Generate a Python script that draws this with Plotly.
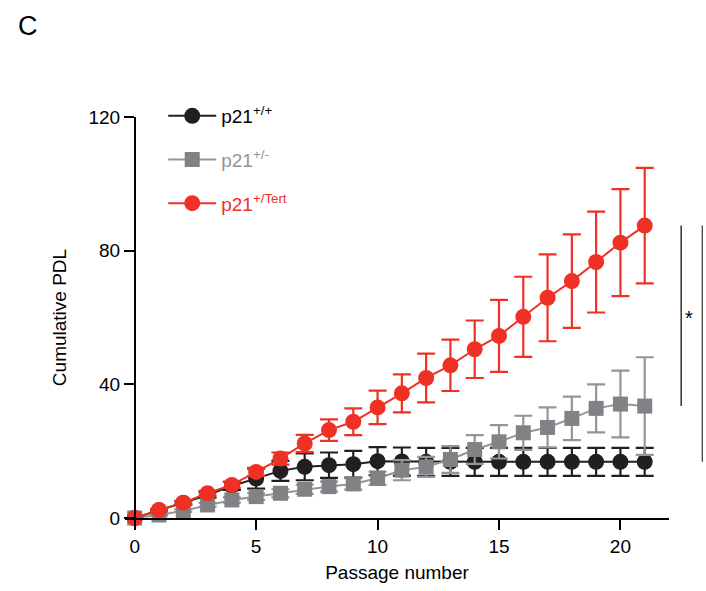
import plotly.graph_objects as go

passage = list(range(22))
black = [0, 2.3, 4.5, 6.9, 9.6, 11.8, 14.1, 15.3, 15.8, 16.1, 17.0, 16.9, 16.8, 16.8, 16.8, 16.8, 16.8, 16.8, 16.8, 16.8, 16.8, 16.8]
black_err = [0, 0.3, 0.5, 0.8, 1.2, 3.0, 3.0, 4.0, 3.8, 4.0, 4.2, 4.2, 4.2, 4.2, 4.2, 4.2, 4.2, 4.2, 4.2, 4.2, 4.2, 4.2]
gray = [0, 0.9, 2.2, 3.9, 5.4, 6.4, 7.4, 8.6, 9.4, 10.2, 11.9, 14.3, 15.3, 17.5, 20.5, 22.8, 25.5, 27.1, 29.8, 32.8, 34.1, 33.5]
gray_err = [0, 0.2, 0.4, 0.6, 0.8, 1.0, 1.2, 1.4, 1.5, 1.7, 2.0, 3.0, 3.0, 4.0, 4.3, 5.0, 5.1, 6.0, 6.5, 7.2, 10.0, 14.6]
red = [0, 2.4, 4.6, 7.4, 9.9, 13.8, 17.8, 22.3, 26.3, 28.8, 33.1, 37.3, 41.9, 45.7, 50.5, 54.5, 60.2, 65.9, 70.9, 76.6, 82.4, 87.5]
red_err = [0, 0.3, 0.5, 0.7, 0.9, 1.2, 1.8, 2.6, 3.2, 4.0, 5.0, 5.7, 7.3, 7.7, 8.6, 10.8, 12.0, 13.0, 14.0, 15.1, 16.0, 17.3]

x_ticks = [0, 5, 10, 15, 20]
y_ticks = [0, 40, 80, 120]

C_BLACK = "#231f20"
C_GRAY = "#808285"
C_GRAY_LINE = "#939598"
C_RED = "#ee3124"

X_RANGE = [-0.4, 22.0]
Y_RANGE = [0, 120]

fig = go.Figure()

def add(name, y, err, color, linecolor, symbol, size, group):
    fig.add_trace(go.Scatter(
        x=passage, y=y, name=name, mode="lines+markers",
        legendgroup=group,
        line=dict(color=linecolor, width=2),
        marker=dict(color=color, symbol=symbol, size=size),
        error_y=dict(type="data", array=err, visible=True, color=linecolor,
                     thickness=2.2, width=9),
        cliponaxis=False,
    ))

add("p21<sup>+/+</sup>", black, black_err, C_BLACK, C_BLACK, "circle", 16, "a")
add('<span style="color:#939598">p21<sup>+/-</sup></span>', gray, gray_err, C_GRAY, C_GRAY_LINE, "square", 15, "b")
add('<span style="color:#ee3124">p21<sup>+/Tert</sup></span>', red, red_err, C_RED, C_RED, "circle", 16, "c")

def px_(v):
    return (v - X_RANGE[0]) / (X_RANGE[1] - X_RANGE[0])

def py_(v):
    return (v - Y_RANGE[0]) / (Y_RANGE[1] - Y_RANGE[0])

# significance brackets derived from endpoint values
fig.add_shape(type="line", xref="paper", yref="paper", x0=px_(22.5), x1=px_(22.5),
              y0=py_(red[-1]), y1=py_(gray[-1]), line=dict(color="black", width=1.2))
fig.add_shape(type="line", xref="paper", yref="paper", x0=px_(23.37), x1=px_(23.37),
              y0=py_(red[-1]), y1=py_(black[-1]), line=dict(color="#333333", width=1.2))
fig.add_annotation(x=px_(23.07), y=py_((red[-1] + gray[-1]) / 2) - 0.005, xref="paper", yref="paper",
                   text="*", showarrow=False, font=dict(size=20, color="black"))

W, H = 706, 591
L, R, T, B = 124.8, 37.4, 116.5, 73
pw = W - L - R
ph = H - T - B
x0_frac = (134.5 - L) / pw

fig.add_annotation(x=(28 - L) / pw, y=1 + (T - 25) / ph, xref="paper", yref="paper",
                   text="C", showarrow=False, font=dict(size=27),
                   xanchor="center", yanchor="middle")

FS = 19
fig.update_layout(
    width=W, height=H,
    margin=dict(l=L, r=R, t=T, b=B, autoexpand=False),
    plot_bgcolor="white", paper_bgcolor="white",
    font=dict(family="Arial, Liberation Sans, sans-serif", size=FS, color="black"),
    showlegend=True,
    legend=dict(x=(163 - L) / pw, y=1.05, xanchor="left", yanchor="top",
                font=dict(size=FS), tracegroupgap=16, bgcolor="rgba(0,0,0,0)",
                itemsizing="trace", itemwidth=48),
    xaxis=dict(range=X_RANGE, tickvals=x_ticks, showline=True, automargin=False,
               linecolor="black", linewidth=1.5, ticks="outside", ticklen=10,
               tickwidth=1.5, tickcolor="black", showgrid=False, zeroline=False,
               title=dict(text="Passage number", standoff=10, font=dict(size=FS))),
    yaxis=dict(range=Y_RANGE, tickvals=y_ticks, showline=True, automargin=False,
               linecolor="black", linewidth=1.5, ticks="outside", ticklen=10,
               tickwidth=1.5, tickcolor="black", showgrid=False, zeroline=False,
               anchor="free", position=x0_frac,
               title=dict(text="Cumulative PDL", standoff=16, font=dict(size=FS))),
)

fig.write_html("out.html", config={"displayModeBar": False},
               post_script="document.body.style.margin='0';")
